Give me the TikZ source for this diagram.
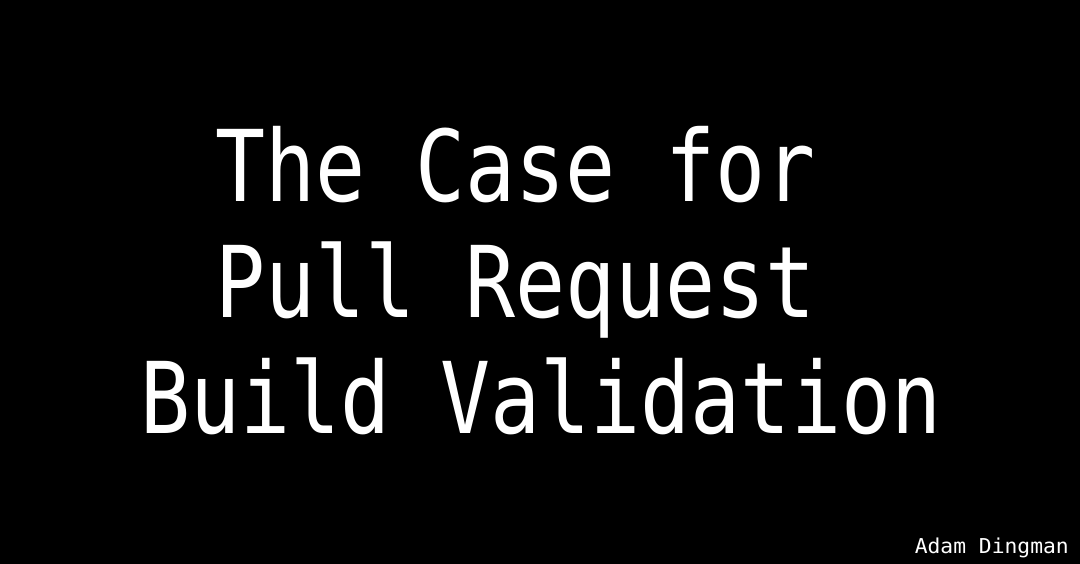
\documentclass[tikz,border=0pt]{standalone}
\usepackage{fontspec}
\newfontfamily\titlefont[FakeStretch=0.84]{DejaVu Sans Mono}
\newfontfamily\footfont[FakeStretch=1.04]{DejaVu Sans Mono}
\begin{document}
\begin{tikzpicture}[x=1pt,y=-1pt,
  titleline/.style={anchor=base west,inner sep=0pt,text=white,font=\titlefont\fontsize{99}{99}\selectfont},
  footline/.style={anchor=base east,inner sep=0pt,text=white,font=\footfont\fontsize{20.5}{20.5}\selectfont}]
\fill[black] (0,0) rectangle (1080,564);
\useasboundingbox (0,0) rectangle (1080,564);
\node[titleline] (l1) at (215,202) {The Case for};
\node[titleline] (l2) at (215,318) {Pull Request};
\node[titleline] (l3) at (140,433) {Build Validation};
\node[footline] (au) at (1069,553) {Adam Dingman};
\end{tikzpicture}
\end{document}
